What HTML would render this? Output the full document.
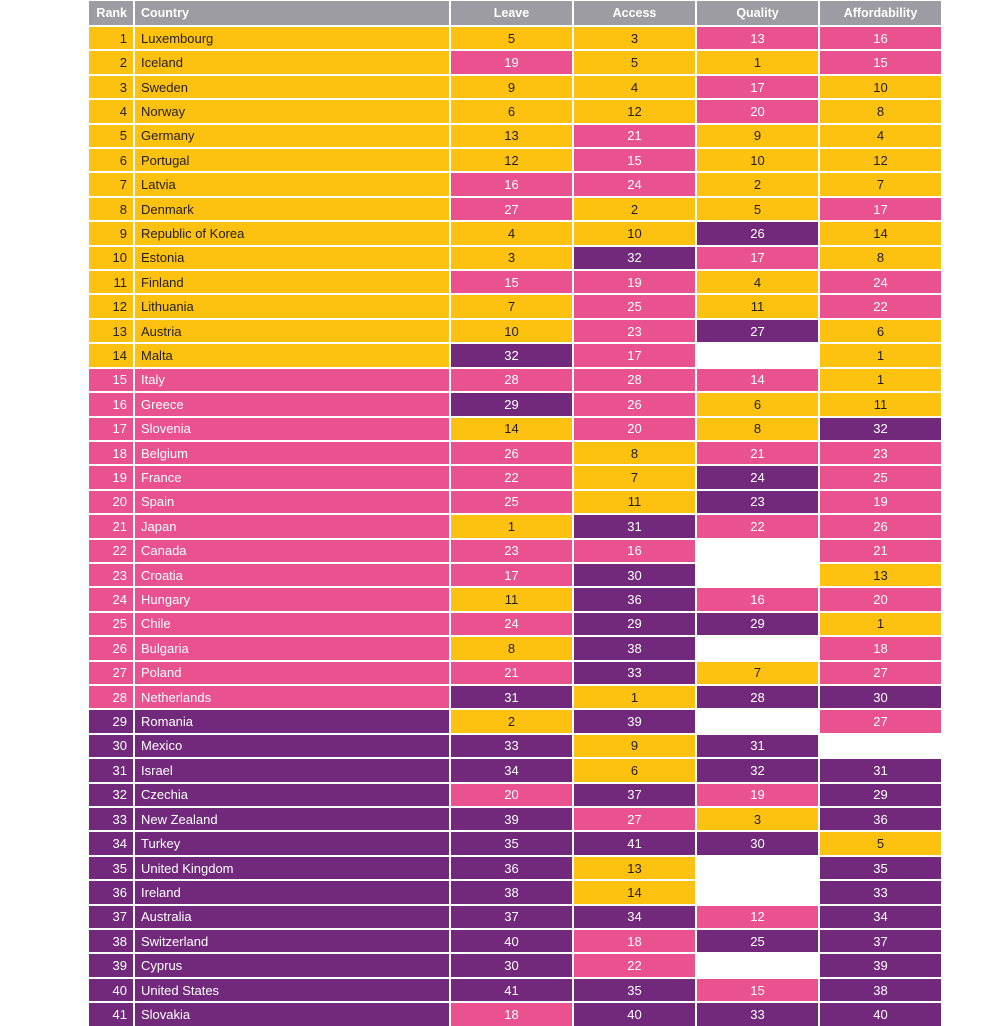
<!DOCTYPE html>
<html><head><meta charset="utf-8"><style>
html,body{margin:0;padding:0;background:#fff;width:1008px;height:1024px;overflow:hidden}
.g{position:absolute;left:89px;top:1px;display:grid;grid-template-columns:44px 314px 121px 121px 121px 121px;grid-template-rows:24px;grid-auto-rows:22.4px;column-gap:2px;row-gap:2.03px;font-family:"Liberation Sans",sans-serif;font-size:13px}
.g div{display:flex;align-items:center;justify-content:center;white-space:nowrap}
.h{background:#9d9ca2;color:#fff;font-weight:bold;font-size:12.5px}
.y{background:#fdc20f;color:#231f20}
.p{background:#e9518f;color:#fff}
.v{background:#72297c;color:#fff}
.w{background:#fff}
.g div.r{justify-content:flex-end;padding-right:6px}
.g div.c{justify-content:flex-start;padding-left:6px}
</style></head><body><div class="g">
<div class="h r">Rank</div><div class="h c">Country</div><div class="h">Leave</div><div class="h">Access</div><div class="h">Quality</div><div class="h">Affordability</div>
<div class="y r">1</div><div class="y c">Luxembourg</div><div class="y">5</div><div class="y">3</div><div class="p">13</div><div class="p">16</div>
<div class="y r">2</div><div class="y c">Iceland</div><div class="p">19</div><div class="y">5</div><div class="y">1</div><div class="p">15</div>
<div class="y r">3</div><div class="y c">Sweden</div><div class="y">9</div><div class="y">4</div><div class="p">17</div><div class="y">10</div>
<div class="y r">4</div><div class="y c">Norway</div><div class="y">6</div><div class="y">12</div><div class="p">20</div><div class="y">8</div>
<div class="y r">5</div><div class="y c">Germany</div><div class="y">13</div><div class="p">21</div><div class="y">9</div><div class="y">4</div>
<div class="y r">6</div><div class="y c">Portugal</div><div class="y">12</div><div class="p">15</div><div class="y">10</div><div class="y">12</div>
<div class="y r">7</div><div class="y c">Latvia</div><div class="p">16</div><div class="p">24</div><div class="y">2</div><div class="y">7</div>
<div class="y r">8</div><div class="y c">Denmark</div><div class="p">27</div><div class="y">2</div><div class="y">5</div><div class="p">17</div>
<div class="y r">9</div><div class="y c">Republic of Korea</div><div class="y">4</div><div class="y">10</div><div class="v">26</div><div class="y">14</div>
<div class="y r">10</div><div class="y c">Estonia</div><div class="y">3</div><div class="v">32</div><div class="p">17</div><div class="y">8</div>
<div class="y r">11</div><div class="y c">Finland</div><div class="p">15</div><div class="p">19</div><div class="y">4</div><div class="p">24</div>
<div class="y r">12</div><div class="y c">Lithuania</div><div class="y">7</div><div class="p">25</div><div class="y">11</div><div class="p">22</div>
<div class="y r">13</div><div class="y c">Austria</div><div class="y">10</div><div class="p">23</div><div class="v">27</div><div class="y">6</div>
<div class="y r">14</div><div class="y c">Malta</div><div class="v">32</div><div class="p">17</div><div class="w"></div><div class="y">1</div>
<div class="p r">15</div><div class="p c">Italy</div><div class="p">28</div><div class="p">28</div><div class="p">14</div><div class="y">1</div>
<div class="p r">16</div><div class="p c">Greece</div><div class="v">29</div><div class="p">26</div><div class="y">6</div><div class="y">11</div>
<div class="p r">17</div><div class="p c">Slovenia</div><div class="y">14</div><div class="p">20</div><div class="y">8</div><div class="v">32</div>
<div class="p r">18</div><div class="p c">Belgium</div><div class="p">26</div><div class="y">8</div><div class="p">21</div><div class="p">23</div>
<div class="p r">19</div><div class="p c">France</div><div class="p">22</div><div class="y">7</div><div class="v">24</div><div class="p">25</div>
<div class="p r">20</div><div class="p c">Spain</div><div class="p">25</div><div class="y">11</div><div class="v">23</div><div class="p">19</div>
<div class="p r">21</div><div class="p c">Japan</div><div class="y">1</div><div class="v">31</div><div class="p">22</div><div class="p">26</div>
<div class="p r">22</div><div class="p c">Canada</div><div class="p">23</div><div class="p">16</div><div class="w"></div><div class="p">21</div>
<div class="p r">23</div><div class="p c">Croatia</div><div class="p">17</div><div class="v">30</div><div class="w"></div><div class="y">13</div>
<div class="p r">24</div><div class="p c">Hungary</div><div class="y">11</div><div class="v">36</div><div class="p">16</div><div class="p">20</div>
<div class="p r">25</div><div class="p c">Chile</div><div class="p">24</div><div class="v">29</div><div class="v">29</div><div class="y">1</div>
<div class="p r">26</div><div class="p c">Bulgaria</div><div class="y">8</div><div class="v">38</div><div class="w"></div><div class="p">18</div>
<div class="p r">27</div><div class="p c">Poland</div><div class="p">21</div><div class="v">33</div><div class="y">7</div><div class="p">27</div>
<div class="p r">28</div><div class="p c">Netherlands</div><div class="v">31</div><div class="y">1</div><div class="v">28</div><div class="v">30</div>
<div class="v r">29</div><div class="v c">Romania</div><div class="y">2</div><div class="v">39</div><div class="w"></div><div class="p">27</div>
<div class="v r">30</div><div class="v c">Mexico</div><div class="v">33</div><div class="y">9</div><div class="v">31</div><div class="w"></div>
<div class="v r">31</div><div class="v c">Israel</div><div class="v">34</div><div class="y">6</div><div class="v">32</div><div class="v">31</div>
<div class="v r">32</div><div class="v c">Czechia</div><div class="p">20</div><div class="v">37</div><div class="p">19</div><div class="v">29</div>
<div class="v r">33</div><div class="v c">New Zealand</div><div class="v">39</div><div class="p">27</div><div class="y">3</div><div class="v">36</div>
<div class="v r">34</div><div class="v c">Turkey</div><div class="v">35</div><div class="v">41</div><div class="v">30</div><div class="y">5</div>
<div class="v r">35</div><div class="v c">United Kingdom</div><div class="v">36</div><div class="y">13</div><div class="w"></div><div class="v">35</div>
<div class="v r">36</div><div class="v c">Ireland</div><div class="v">38</div><div class="y">14</div><div class="w"></div><div class="v">33</div>
<div class="v r">37</div><div class="v c">Australia</div><div class="v">37</div><div class="v">34</div><div class="p">12</div><div class="v">34</div>
<div class="v r">38</div><div class="v c">Switzerland</div><div class="v">40</div><div class="p">18</div><div class="v">25</div><div class="v">37</div>
<div class="v r">39</div><div class="v c">Cyprus</div><div class="v">30</div><div class="p">22</div><div class="w"></div><div class="v">39</div>
<div class="v r">40</div><div class="v c">United States</div><div class="v">41</div><div class="v">35</div><div class="p">15</div><div class="v">38</div>
<div class="v r">41</div><div class="v c">Slovakia</div><div class="p">18</div><div class="v">40</div><div class="v">33</div><div class="v">40</div>
</div></body></html>
